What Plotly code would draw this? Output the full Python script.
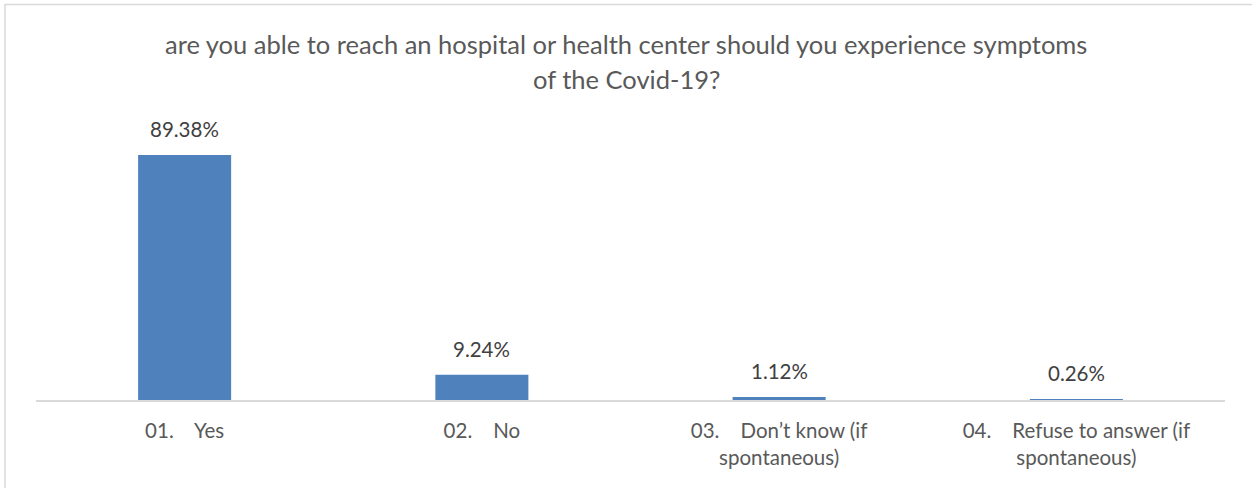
import plotly.graph_objects as go

# Survey responses
categories = [
    "01.\u00a0\u00a0\u00a0 Yes",
    "02.\u00a0\u00a0\u00a0 No",
    "03.\u00a0\u00a0\u00a0 Don’t know (if<br>spontaneous)",
    "04.\u00a0\u00a0\u00a0 Refuse to answer (if<br>spontaneous)",
]
values = [89.38, 9.24, 1.12, 0.26]
title_lines = [
    "are you able to reach an hospital or health center should you experience symptoms",
    "of the Covid-19?",
]

W, H = 1252, 488
L, R, T, B = 36, 27, 110, 88
PW, PH = W - L - R, H - T - B
FONT = "Lato, 'Open Sans', sans-serif"


def px_x(px):
    return (px - L) / PW


def px_y(py):
    return (H - B - py) / PH


fig = go.Figure(
    go.Bar(
        x=categories,
        y=values,
        marker=dict(color="#4F81BD", line=dict(width=0)),
        hoverinfo="x+y",
    )
)

# value labels sitting above each bar
value_labels = [
    dict(text=f"{v:.2f}%", x=c, y=v, xref="x", yref="y",
         xanchor="center", yanchor="bottom", yshift=12, showarrow=False,
         font=dict(family=FONT, size=20.5, color="#404040"))
    for c, v in zip(categories, values)
]

title_annotations = [
    dict(text=line, xref="paper", yref="paper", x=px_x(626), y=px_y(cy),
         xanchor="center", yanchor="middle", showarrow=False,
         font=dict(family=FONT, size=25.5, color="#595959"))
    for line, cy in zip(title_lines, [44, 79])
]

fig.update_layout(
    width=W, height=H,
    margin=dict(l=L, r=R, t=T, b=B),
    paper_bgcolor="white", plot_bgcolor="white",
    bargap=0.687,
    showlegend=False,
    annotations=title_annotations + value_labels,
    shapes=[dict(type="rect", xref="paper", yref="paper",
                 x0=px_x(5), x1=px_x(1262), y0=px_y(498), y1=px_y(4.5),
                 line=dict(color="#D9D9D9", width=1.5), fillcolor="rgba(0,0,0,0)",
                 layer="below")],
    xaxis=dict(showline=True, linecolor="#D9D9D9", linewidth=1.5,
               showgrid=False, ticks="outside", ticklen=12,
               tickcolor="rgba(0,0,0,0)",
               tickfont=dict(family=FONT, size=20.5, color="#595959")),
    yaxis=dict(range=[0, 105.8], visible=False, showgrid=False),
)

fig.write_html("out.html")
